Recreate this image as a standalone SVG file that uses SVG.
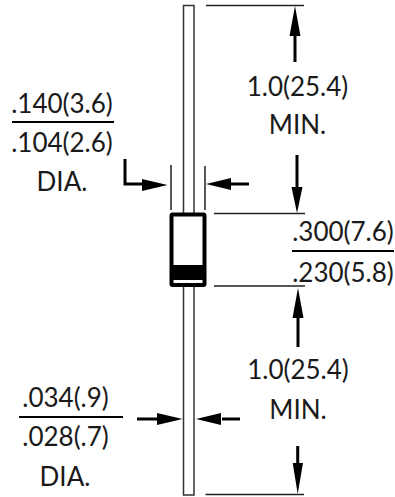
<svg xmlns="http://www.w3.org/2000/svg" width="395" height="497" viewBox="0 0 395 497">
<style>
text{font-family:"Lato","Open Sans",sans-serif;font-size:26px;fill:#1a1a1a;text-anchor:middle}
.t{fill:none;stroke:#333;stroke-width:1.5}
.d{fill:none;stroke:#222;stroke-width:1.5}
.b{fill:none;stroke:#000;stroke-width:3}
.h{fill:#000;stroke:none}
</style>
<rect width="395" height="497" fill="#fff"/>
<g id="diode">
<path class="t" d="M183.500 213V5.500H194V213M183.500 286V495H194V286"/>
<rect x="171.500" y="214.500" width="33" height="70.500" rx="1" fill="#fff" stroke="#000" stroke-width="4"/>
<rect x="171" y="265" width="34" height="15" fill="#000"/>
</g>
<g id="connectors">
<path class="d" d="M206 5.500H304M214 213.500H305M214 286H305M205.500 494.500H304M171 165V210M205 166V210"/>
<path class="b" d="M295 30V62M297 155V190M298 347V310M297.700 446V470M125 159V184H144M249 184H225M137 419H160M240 419H222"/>
<path class="h" d="M295 6L300.500 36H289.500ZM297 213L291.500 187H302.500ZM298 288L292.500 318H303.500ZM297.700 494L292.700 463H303ZM167.500 185L142 179V191ZM206 184L231 178V190ZM182.500 419L157 413V425ZM196 419L221 413V425Z"/>
<path stroke="#000" stroke-width="2" d="M12 122H114M292 251H394M19 417H123"/>
</g>
<g id="labels">
<text x="297.500" y="95.500">1.0(25.4)</text>
<text x="297.500" y="134">MIN.</text>
<text x="62" y="113">.140(3.6)</text>
<text x="62" y="151.500">.104(2.6)</text>
<text x="62" y="191">DIA.</text>
<text x="343" y="241">.300(7.6)</text>
<text x="343" y="282">.230(5.8)</text>
<text x="298" y="379">1.0(25.4)</text>
<text x="298" y="419">MIN.</text>
<text x="65.500" y="406.500">.034(.9)</text>
<text x="65.500" y="446">.028(.7)</text>
<text x="65" y="485.500">DIA.</text>
</g>
</svg>
